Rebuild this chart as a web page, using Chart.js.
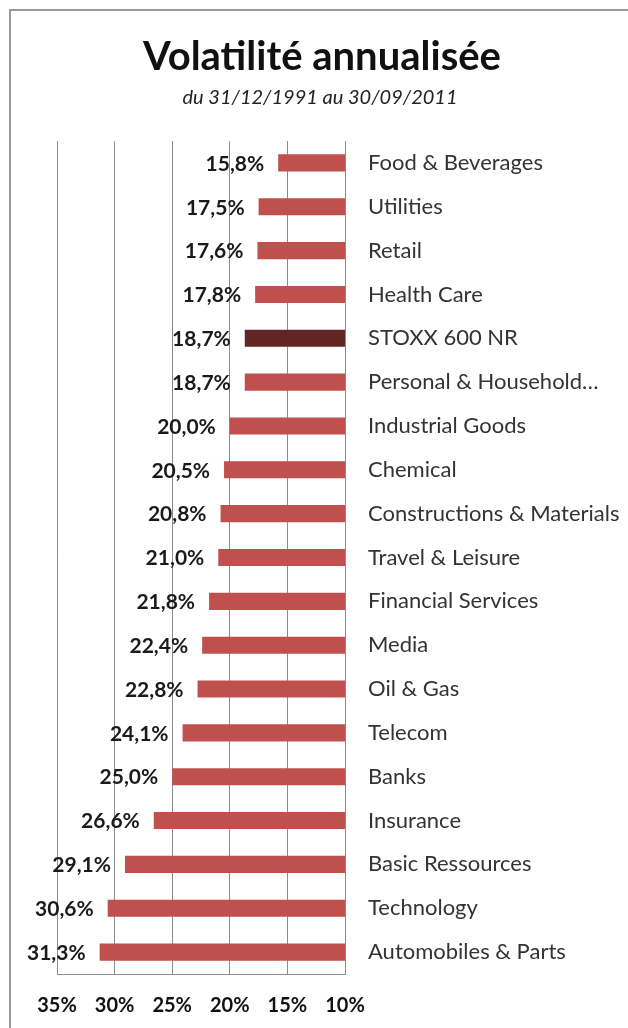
<!DOCTYPE html>
<html lang="fr">
<head>
<meta charset="utf-8">
<title>Volatilité annualisée</title>
<script src="https://cdn.jsdelivr.net/npm/chart.js@4.4.1/dist/chart.umd.min.js"></script>
<style>
  html, body { margin: 0; padding: 0; background: #fff; }
  #wrap { position: relative; width: 628px; height: 1028px; overflow: hidden; }
  #frame {
    position: absolute; left: 9px; top: 9px; width: 700px; height: 1100px;
    border-left: 2px solid #9a9a9a; border-top: 2px solid #9a9a9a;
  }
  canvas { position: absolute; left: 0; top: 0; }
</style>
</head>
<body>
<div id="wrap">
  <div id="frame"></div>
  <canvas id="chart" width="628" height="1028"></canvas>
</div>
<script>
// Secteurs STOXX 600, volatilité annualisée en %
const sectors = [
  'Food & Beverages', 'Utilities', 'Retail', 'Health Care', 'STOXX 600 NR',
  'Personal & Household…', 'Industrial Goods', 'Chemical', 'Constructions & Materials',
  'Travel & Leisure', 'Financial Services', 'Media', 'Oil & Gas', 'Telecom',
  'Banks', 'Insurance', 'Basic Ressources', 'Technology', 'Automobiles & Parts'
];
const volatility = [
  15.8, 17.5, 17.6, 17.8, 18.7, 18.7, 20.0, 20.5, 20.8, 21.0,
  21.8, 22.4, 22.8, 24.1, 25.0, 26.6, 29.1, 30.6, 31.3
];
const benchmark = 'STOXX 600 NR';
const axisMin = 10;
const axisMax = 35;
const axisStep = 5;
const titleText = 'Volatilité annualisée';
const subtitleText = 'du 31/12/1991 au 30/09/2011';

const FONT = 'Lato, "Open Sans", sans-serif';
const fmt = v => v.toFixed(1).replace('.', ',') + '%';

// titre + sous-titre centrés sur le cadre (pas sur la zone du graphique)
const heading = {
  id: 'heading',
  afterDraw(chart) {
    const { ctx } = chart;
    const cx = 322;
    ctx.save();
    ctx.textAlign = 'center';
    ctx.textBaseline = 'middle';
    ctx.fillStyle = '#111';
    ctx.font = 'bold 40px ' + FONT;
    ctx.fillText(titleText, cx, 57);
    ctx.fillStyle = '#222';
    ctx.font = 'italic 20px ' + FONT;
    ctx.fillText(subtitleText, cx - 2, 98);
    ctx.restore();
  }
};

// étiquettes de valeur à gauche de chaque barre
const valueLabels = {
  id: 'valueLabels',
  afterDatasetsDraw(chart) {
    const { ctx } = chart;
    const meta = chart.getDatasetMeta(0);
    ctx.save();
    ctx.font = 'bold 21px ' + FONT;
    ctx.fillStyle = '#1a1a1a';
    ctx.textAlign = 'right';
    ctx.textBaseline = 'middle';
    meta.data.forEach((bar, i) => {
      ctx.fillText(fmt(volatility[i]), bar.x - 14, bar.y + 1);
    });
    ctx.restore();
  }
};

new Chart(document.getElementById('chart'), {
  type: 'bar',
  data: {
    labels: sectors,
    datasets: [{
      data: volatility,
      backgroundColor: sectors.map(s => s === benchmark ? '#632523' : '#c0504d'),
      barPercentage: 0.39,
      categoryPercentage: 1
    }]
  },
  options: {
    indexAxis: 'y',
    responsive: false,
    animation: false,
    layout: { padding: { top: 141, left: 57, right: 0, bottom: 0 } },
    plugins: {
      legend: { display: false },
      tooltip: { enabled: false }
    },
    scales: {
      x: {
        reverse: true,
        min: axisMin,
        max: axisMax,
        afterFit(scale) { scale.height = 54; },
        grid: { color: '#8c8c8c', lineWidth: 1, drawTicks: false },
        border: { display: true, color: '#8c8c8c' },
        ticks: {
          stepSize: axisStep,
          padding: 20,
          color: '#111',
          font: { family: FONT, size: 20, weight: 'bold' },
          callback: v => v + '%'
        }
      },
      y: {
        position: 'right',
        afterFit(scale) { scale.width = 283; },
        grid: { display: false, drawTicks: false },
        border: { display: false },
        ticks: {
          padding: 23,
          color: '#333',
          font: { family: FONT, size: 22 }
        }
      }
    }
  },
  plugins: [heading, valueLabels]
});
</script>
</body>
</html>
